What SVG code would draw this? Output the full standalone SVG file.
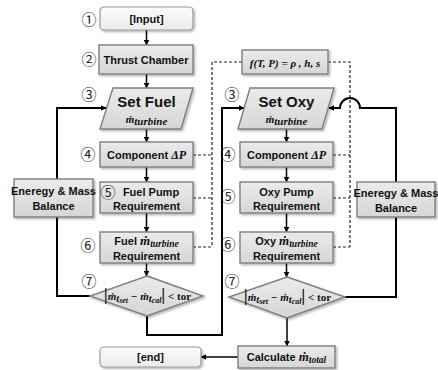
<svg xmlns="http://www.w3.org/2000/svg" width="438" height="370" viewBox="0 0 438 370">
<defs>
<linearGradient id="g" x1="0" y1="0" x2="0" y2="1"><stop offset="0" stop-color="#ebebeb"/><stop offset="1" stop-color="#d6d6d6"/></linearGradient>
<linearGradient id="gl" x1="0" y1="0" x2="0" y2="1"><stop offset="0" stop-color="#fbfbfb"/><stop offset="1" stop-color="#ececec"/></linearGradient>
<filter id="sh" x="-10%" y="-10%" width="130%" height="140%"><feDropShadow dx="1.5" dy="1.5" stdDeviation="0.8" flood-color="#000" flood-opacity="0.3"/></filter>
<marker id="ah" viewBox="0 0 10 10" refX="9" refY="5" markerWidth="6" markerHeight="6" markerUnits="userSpaceOnUse" orient="auto"><path d="M0,0 L10,5 L0,10 z" fill="#000"/></marker>
</defs>
<style>
.box{fill:url(#g);stroke:#7f7f7f;stroke-width:1.4;filter:url(#sh)}
.lbox{fill:url(#gl);stroke:#9a9a9a;stroke-width:1.2;filter:url(#sh)}
.t{font-family:"Liberation Sans",Arial,sans-serif;font-weight:bold;font-size:11px;fill:#111;text-anchor:middle}
.big{font-size:15px}
.m{font-family:"Liberation Serif","Times New Roman",serif;font-style:italic;font-weight:bold}
.num{font-family:"Noto Sans CJK JP","DejaVu Sans",sans-serif;font-size:15px;fill:#222;text-anchor:middle}
.ar{fill:none;stroke:#000;stroke-width:1.5;marker-end:url(#ah)}
.lna{fill:none;stroke:#000;stroke-width:2;marker-end:url(#ah)}
.ds{fill:none;stroke:#222;stroke-width:1.2;stroke-dasharray:3,2}
</style>

<g id="connectors">
<path class="ar" d="M146.5,30 V45"/>
<path class="ar" d="M146.5,74 V88"/>
<path class="ar" d="M146.5,129 V142"/>
<path class="ar" d="M146.5,167 V182"/>
<path class="ar" d="M146.5,213 V232"/>
<path class="ar" d="M146.5,263 V276"/>
<path class="ar" d="M286.5,129 V142"/>
<path class="ar" d="M286.5,167 V182"/>
<path class="ar" d="M286.5,213 V232"/>
<path class="ar" d="M286.5,263 V277"/>
<path class="ar" d="M287,318 V346"/>
<path class="ar" d="M238,357 H201"/>
<path class="lna" d="M90,296 H57 V108 H106"/>
<path class="lna" d="M147,316 V335 H222 V108 H244"/>
<path class="lna" d="M345,297 H396 V108 H360 A10,10 0 0 0 340,108 H329"/>
<path class="ds" d="M242,62 H212 V247"/>
<path class="ds" d="M193,155 H212"/>
<path class="ds" d="M193,198 H212"/>
<path class="ds" d="M193,247 H212"/>
<path class="ds" d="M328,62 H350 V247"/>
<path class="ds" d="M333,155 H350"/>
<path class="ds" d="M333,198 H350"/>
<path class="ds" d="M333,247 H350"/>
</g>

<g id="input">
<rect class="lbox" x="100" y="7" width="93" height="23" rx="4"/>
<text class="t" x="146.5" y="22.5">[Input]</text>
<text class="num" x="89" y="25">①</text>
</g>

<g id="thrust">
<rect class="box" x="99" y="45" width="94" height="29"/>
<text class="t" x="146" y="63.5">Thrust Chamber</text>
<text class="num" x="89" y="65">②</text>
</g>

<g id="setfuel">
<polygon class="box" points="113,88 193,88 181,129 100,129"/>
<text class="t big" x="146.5" y="107">Set Fuel</text>
<text class="t m" x="146.5" y="123" font-size="15">ṁ<tspan font-size="11" dy="2">turbine</tspan></text>
<text class="num" x="89" y="100">③</text>
</g>

<g id="fuelcomp">
<rect class="box" x="100" y="142" width="93" height="25"/>
<text class="t" x="146.5" y="158.5">Component <tspan class="m" font-weight="normal" font-size="12">ΔP</tspan></text>
<text class="num" x="88" y="160">④</text>
</g>

<g id="fuelpump">
<rect class="box" x="100" y="182" width="93" height="31"/>
<text class="num" x="108" y="198">⑤</text>
<text class="t" x="151" y="196">Fuel Pump</text>
<text class="t" x="146.5" y="209.5">Requirement</text>
</g>

<g id="fuelreq">
<rect class="box" x="100" y="232" width="93" height="31"/>
<text class="t" x="146.5" y="245">Fuel <tspan class="m" font-size="13">ṁ<tspan font-size="9.5" dy="1.5">turbine</tspan></tspan></text>
<text class="t" x="146.5" y="259.5">Requirement</text>
<text class="num" x="88" y="251">⑥</text>
</g>

<g id="fueldiamond">
<polygon class="box" points="147,276 203,296 147,316 90,296"/>
<text class="t m" x="147.5" y="299.5" font-weight="normal" font-size="14.5"><tspan font-size="17">|</tspan>ṁ<tspan font-size="10.5" dy="2">t</tspan><tspan font-size="8" dy="1.5">set</tspan><tspan dy="-3.5"> − ṁ</tspan><tspan font-size="10.5" dy="2">t</tspan><tspan font-size="8" dy="1.5">cal</tspan><tspan dy="-3.5" font-size="17">|</tspan><tspan font-style="normal"> &lt; </tspan><tspan font-style="normal" font-weight="bold">tor</tspan></text>
<text class="num" x="89" y="287">⑦</text>
</g>

<g id="leftbalance">
<rect class="box" x="14" y="179" width="79" height="38"/>
<text class="t" x="53.5" y="195" font-size="10.5">Eneregy &amp; Mass</text>
<text class="t" x="53.5" y="209.5" font-size="10.5">Balance</text>
</g>

<g id="func">
<rect class="box" x="242" y="50" width="86" height="24"/>
<text class="t m" x="285" y="66.5" font-size="14">f(T, P) = ρ , h, s</text>
</g>

<g id="setoxy">
<polygon class="box" points="250,88 334,88 322,129 238,129"/>
<text class="t big" x="286.5" y="107">Set Oxy</text>
<text class="t m" x="286.5" y="123" font-size="15">ṁ<tspan font-size="11" dy="2">turbine</tspan></text>
<text class="num" x="232" y="100">③</text>
</g>

<g id="oxycomp">
<rect class="box" x="240" y="142" width="93" height="25"/>
<text class="t" x="286.5" y="158.5">Component <tspan class="m" font-weight="normal" font-size="12">ΔP</tspan></text>
<text class="num" x="228" y="160">④</text>
</g>

<g id="oxypump">
<rect class="box" x="240" y="182" width="93" height="31"/>
<text class="t" x="286.5" y="196">Oxy Pump</text>
<text class="t" x="286.5" y="209.5">Requirement</text>
<text class="num" x="228" y="202">⑤</text>
</g>

<g id="oxyreq">
<rect class="box" x="240" y="232" width="93" height="31"/>
<text class="t" x="286.5" y="245">Oxy <tspan class="m" font-size="13">ṁ<tspan font-size="9.5" dy="1.5">turbine</tspan></tspan></text>
<text class="t" x="286.5" y="259.5">Requirement</text>
<text class="num" x="228" y="250">⑥</text>
</g>

<g id="oxydiamond">
<polygon class="box" points="287,277 345,297 287,318 229,297"/>
<text class="t m" x="287.5" y="300.5" font-weight="normal" font-size="14.5"><tspan font-size="17">|</tspan>ṁ<tspan font-size="10.5" dy="2">t</tspan><tspan font-size="8" dy="1.5">set</tspan><tspan dy="-3.5"> − ṁ</tspan><tspan font-size="10.5" dy="2">t</tspan><tspan font-size="8" dy="1.5">cal</tspan><tspan dy="-3.5" font-size="17">|</tspan><tspan font-style="normal"> &lt; </tspan><tspan font-style="normal" font-weight="bold">tor</tspan></text>
<text class="num" x="232" y="287">⑦</text>
</g>

<g id="rightbalance">
<rect class="box" x="357" y="182" width="78" height="35"/>
<text class="t" x="396" y="197" font-size="9.5">Eneregy &amp; Mass</text>
<text class="t" x="396" y="211.5" font-size="9.5">Balance</text>
</g>

<g id="calc">
<rect class="box" x="238" y="346" width="97" height="22"/>
<text class="t" x="286.5" y="361">Calculate <tspan class="m" font-size="13">ṁ<tspan font-size="9.5" dy="1.5">total</tspan></tspan></text>
</g>

<g id="end">
<rect class="lbox" x="100" y="347" width="101" height="20" rx="4"/>
<text class="t" x="150.5" y="361">[end]</text>
</g>
</svg>
